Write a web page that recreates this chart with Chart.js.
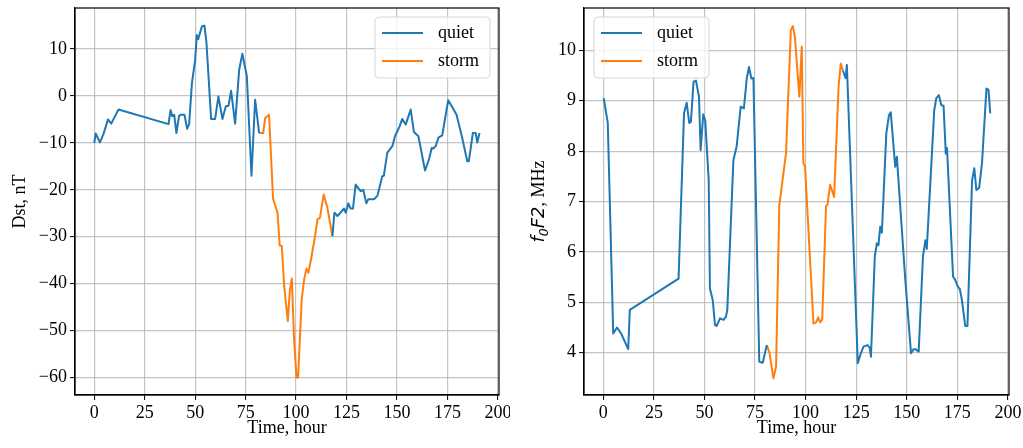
<!DOCTYPE html>
<html lang="en">
<head>
<meta charset="UTF-8" />
<title>Dst and foF2</title>
<script src="https://cdn.jsdelivr.net/npm/chart.js"></script>
<style>
  body { margin: 0; background: #fff; }
  .wrap { position: relative; width: 1023px; height: 448px; }
  canvas { position: absolute; top: 0; }
  #dstChart { left: 0; }
  #foChart { left: 510px; }
</style>
</head>
<body>
<div class="wrap">
  <canvas id="dstChart" width="510" height="448"></canvas>
  <canvas id="foChart" width="513" height="448"></canvas>
</div>

<script>
// tick values
const xTicks = [0, 25, 50, 75, 100, 125, 150, 175, 200];
const dstTicks = [-60, -50, -40, -30, -20, -10, 0, 10];
const foTicks = [4, 5, 6, 7, 8, 9, 10];

// Dst, quiet days (null = break during the storm)
const dstQuietT = [0, 0.7, 2.8, 4.5, 6.8, 8.4, 12, 36.8, 37.8, 38.6, 39.6, 40.7, 42, 42.8, 44.7, 46, 47,
  48.4, 50, 50.8, 51.5, 53.3, 54.6, 55.6, 57.9, 59.9, 61.5, 63.5, 65.2, 66.5, 67.8, 69.8, 71.8, 73.4,
  75.6, 77.9, 79.7, 81.7, 100, 118, 119, 120.5, 123.8, 124.6, 125.9, 127, 128.2, 129.5, 132, 133.3,
  134.8, 135.8, 138.6, 140.3, 142.7, 143.5, 145.2, 147.7, 149, 151.3, 152.6, 154.3, 156.8, 158.4, 160.6,
  162.2, 163.9, 165.8, 167.2, 168, 169.2, 170.5, 172.4, 175.4, 177.7, 179.5, 180.7, 182.3, 184.8, 185.6,
  187.6, 189, 189.8, 190.9];
const dstQuietV = [-10, -8, -9.9, -8.2, -5, -5.9, -2.9, -6, -3, -4.3, -4, -7.9, -4.3, -4, -4, -7, -6,
  2.8, 7.7, 13, 12.1, 14.8, 15, 11.3, -4.9, -4.9, -0.1, -4.9, -2.2, -2.1, 1.1, -5.9, 5.6, 9,
  4.2, -17, -0.8, -7.9, null, -29.9, -24.9, -25.6, -24, -24.9, -22.9, -24, -24, -18.9, -20.3, -20,
  -22.9, -22, -22, -21.3, -17.1, -17, -12.1, -10.7, -8.6, -6.5, -4.9, -6.1, -2.9, -7.7, -8.6,
  -12.1, -15.9, -13.6, -11.1, -11.2, -10.7, -8.9, -8.4, -0.9, -2.6, -4, -6.1, -8.9, -13.9, -13.9,
  -7.9, -7.9, -9.9, -7.9];

// Dst, storm
const dstStormT = [81.7, 83.7, 84.7, 86.6, 88.6, 90.8, 91.9, 92.9, 94.1, 95.9, 96.9, 97.9, 99, 100.2,
  101, 102.8, 104, 105.1, 106.1, 107.4, 109.4, 110.6, 111.8, 113.7, 115.5, 118];
const dstStormV = [-7.9, -7.9, -4.7, -4, -21.9, -24.9, -31.9, -32, -40.5, -48, -41.6, -38.9, -51.9, -60,
  -60, -43.3, -39.1, -36.8, -37.7, -34.8, -29.9, -26.3, -26, -21, -23.8, -29.9];

// foF2, quiet days
const foQuietT = [0.2, 2.2, 4.9, 6.8, 8.8, 12.3, 13.1, 37.2, 39.9, 41.2, 42.5, 43.3, 44.6, 45.8, 47.3,
  48.1, 49.4, 50.4, 52.1, 52.7, 54.1, 55.2, 56, 57.7, 59.4, 60.6, 61.3, 64.3, 65.9, 67.9, 69.5, 70.9,
  72, 73.2, 74.2, 77.1, 78.8, 80.8, 100, 118.4, 119.8, 120.4, 125.8, 127, 128.6, 130.6, 131.7, 132.3,
  134.2, 135.2, 136, 136.9, 137.7, 139.9, 141.2, 142.1, 144.3, 145.1, 149.3, 152.1, 153.4, 154.3,
  155.9, 158, 159.2, 159.9, 163.6, 164.6, 165.9, 167.1, 168.2, 169.3, 169.9, 172.9, 174, 175.2,
  176.2, 177.3, 178.9, 180, 182.3, 183.4, 184.4, 185.8, 187.2, 189.4, 190.4, 191.3];
const foQuietV = [9.05, 8.56, 4.38, 4.5, 4.38, 4.07, 4.85, 5.47, 8.75, 8.96, 8.56, 8.58, 9.38, 9.4, 9.08,
  8.02, 8.73, 8.6, 7.42, 5.28, 5.04, 4.55, 4.53, 4.68, 4.65, 4.71, 4.85, 7.82, 8.09, 8.88, 8.85, 9.44,
  9.67, 9.44, 9.45, 3.82, 3.8, 4.15, null, 9.6, 9.45, 9.71, 3.79, 3.95, 4.12, 4.15, 4.1, 3.92,
  5.9, 6.17, 6.13, 6.5, 6.38, 8.35, 8.71, 8.77, 7.69, 7.89, 5.44, 3.99, 4.07, 4.07,
  4.02, 5.9, 6.23, 6.06, 8.81, 9.05, 9.11, 8.91, 8.9, 7.95, 8.06, 5.51, 5.44, 5.31,
  5.27, 5.04, 4.53, 4.53, 7.42, 7.66, 7.23, 7.27, 7.76, 9.24, 9.22, 8.75];

// foF2, storm
const foStormT = [80.8, 82.1, 84.1, 85.4, 87, 90.3, 92.7, 93.7, 94.7, 96.9, 98.1, 98.9, 99.7, 103.9,
  105.2, 106.2, 107.2, 108.2, 110.1, 110.8, 112.1, 112.9, 114.1, 116.3, 117.4, 118.4];
const foStormV = [4.15, 4.0, 3.49, 3.72, 6.93, 7.95, 10.4, 10.48, 10.27, 9.08, 10.07, 7.76, 7.7, 4.58,
  4.6, 4.7, 4.6, 4.66, 6.91, 6.93, 7.33, 7.24, 7.09, 9.28, 9.74, 9.6];

const BLUE = '#1f77b4';
const ORANGE = '#ff7f0e';
const SERIF = '"Liberation Serif", "Times New Roman", serif';
const gridCol = 'rgba(176,176,176,0.75)';

const pts = (t, v) => t.map((x, i) => ({ x: x, y: v[i] }));
const minus = v => v < 0 ? '\u2212' + Math.abs(v) : String(v);

// spines on all four sides
const frame = {
  id: 'frame',
  afterDraw(chart) {
    const { ctx, chartArea: a } = chart;
    ctx.save();
    ctx.strokeStyle = '#000';
    ctx.lineWidth = 1.2;
    ctx.strokeRect(a.left, a.top, a.right - a.left, a.bottom - a.top);
    ctx.restore();
  }
};

// matplotlib-like legend inside the axes
const boxLegend = {
  id: 'boxLegend',
  afterDraw(chart, args, opts) {
    const { ctx, chartArea: a } = chart;
    const w = 115, h = 61;
    const x = opts.side === 'left' ? a.left + 10 : a.right - 9 - w;
    const y = a.top + 9;
    ctx.save();
    ctx.beginPath();
    ctx.roundRect(x, y, w, h, 4);
    ctx.fillStyle = 'rgba(255,255,255,0.8)';
    ctx.fill();
    ctx.strokeStyle = '#d6d6d6';
    ctx.lineWidth = 1;
    ctx.stroke();
    chart.data.datasets.forEach((ds, i) => {
      const cy = y + 16 + i * 28;
      ctx.strokeStyle = ds.borderColor;
      ctx.lineWidth = 2;
      ctx.beginPath();
      ctx.moveTo(x + 7, cy);
      ctx.lineTo(x + 48, cy);
      ctx.stroke();
      ctx.fillStyle = '#000';
      ctx.font = '18px ' + SERIF;
      ctx.textBaseline = 'middle';
      ctx.fillText(ds.label, x + 63, cy);
    });
    ctx.restore();
  }
};

// y label with mixed math / serif text: f0F2, MHz
const foLabel = {
  id: 'foLabel',
  afterDraw(chart) {
    const { ctx, chartArea: a } = chart;
    const parts = [
      ['f', 'italic 18px "DejaVu Sans"', 0],
      ['0', 'italic 12.5px "DejaVu Sans"', 4],
      ['F2', 'italic 18px "DejaVu Sans"', 0],
      [', MHz', '18px ' + SERIF, 0]
    ];
    ctx.save();
    let total = 0;
    parts.forEach(p => { ctx.font = p[1]; total += ctx.measureText(p[0]).width; });
    ctx.translate(28, (a.top + a.bottom) / 2);
    ctx.rotate(-Math.PI / 2);
    ctx.fillStyle = '#000';
    ctx.textBaseline = 'alphabetic';
    let px = -total / 2;
    parts.forEach(p => {
      ctx.font = p[1];
      ctx.fillText(p[0], px, 6 + p[2]);
      px += ctx.measureText(p[0]).width;
    });
    ctx.restore();
  }
};

function makeChart(id, quiet, storm, yCfg, padRight, yWidth, legendSide, extra) {
  return new Chart(document.getElementById(id), {
    type: 'line',
    data: {
      datasets: [
        { label: 'quiet', data: quiet, borderColor: BLUE, borderWidth: 2, pointRadius: 0,
          tension: 0, spanGaps: false, borderJoinStyle: 'round' },
        { label: 'storm', data: storm, borderColor: ORANGE, borderWidth: 2, pointRadius: 0,
          tension: 0, borderJoinStyle: 'round' }
      ]
    },
    options: {
      responsive: false,
      animation: false,
      layout: { padding: { left: 0, top: 8, right: padRight, bottom: 0 } },
      plugins: {
        legend: { display: false },
        tooltip: { enabled: false },
        boxLegend: { side: legendSide }
      },
      scales: {
        x: {
          type: 'linear', min: -9.55, max: 200.55,
          afterBuildTicks: s => { s.ticks = xTicks.map(v => ({ value: v })); },
          afterFit: s => { s.height = 53; s.paddingLeft = 0; s.paddingRight = 0; },
          ticks: { font: { family: SERIF, size: 18 }, color: '#000', padding: 2, maxRotation: 0, autoSkip: false },
          grid: { color: gridCol, lineWidth: 1.2, tickLength: 5, tickColor: '#000', tickWidth: 1 },
          border: { color: '#000', width: 1.2 },
          title: { display: true, text: 'Time, hour', color: '#000',
                   font: { family: SERIF, size: 18 }, padding: { top: 0, bottom: 9 } }
        },
        y: Object.assign({
          type: 'linear',
          afterFit: s => { s.width = yWidth; s.paddingTop = 0; s.paddingBottom = 0; },
          grid: { color: gridCol, lineWidth: 1.2, tickLength: 5, tickColor: '#000', tickWidth: 1 },
          border: { color: '#000', width: 1.2 }
        }, yCfg)
      }
    },
    plugins: [frame, boxLegend].concat(extra)
  });
}

makeChart('dstChart', pts(dstQuietT, dstQuietV), pts(dstStormT, dstStormV), {
  min: -63.75, max: 18.75,
  afterBuildTicks: s => { s.ticks = dstTicks.map(v => ({ value: v })); },
  ticks: { font: { family: SERIF, size: 18 }, color: '#000', padding: 3, callback: v => minus(v) },
  title: { display: true, text: 'Dst, nT', color: '#000',
           font: { family: SERIF, size: 18 }, padding: { top: 9, bottom: 0 } }
}, 11, 75, 'right', []);

makeChart('foChart', pts(foQuietT, foQuietV), pts(foStormT, foStormV), {
  min: 3.16, max: 10.84,
  afterBuildTicks: s => { s.ticks = foTicks.map(v => ({ value: v })); },
  ticks: { font: { family: SERIF, size: 18 }, color: '#000', padding: 3 }
}, 14, 74, 'left', [foLabel]);
</script>
</body>
</html>
